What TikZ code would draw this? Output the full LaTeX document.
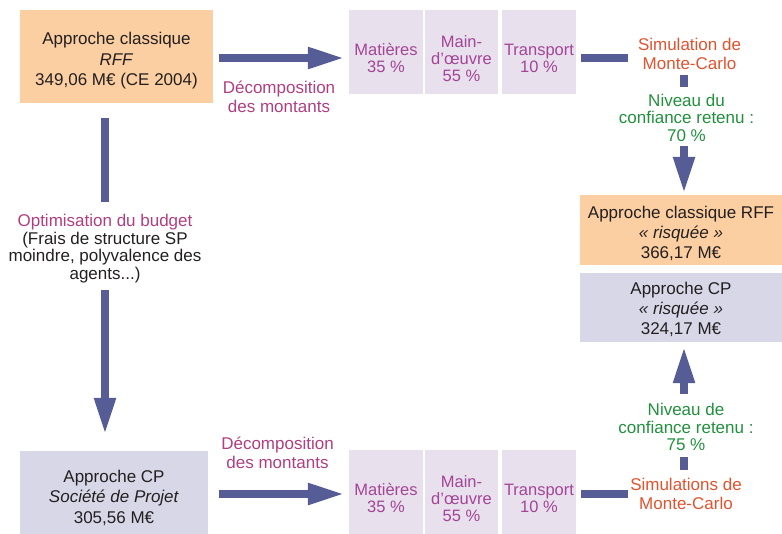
\documentclass[tikz,border=0pt]{standalone}
\usepackage{fontspec}
\setmainfont{Liberation Sans}
\usetikzlibrary{arrows.meta}
\definecolor{boxorange}{HTML}{FBCFA1}
\definecolor{boxlav}{HTML}{E8E0ED}
\definecolor{boxgrey}{HTML}{D8D7E7}
\definecolor{arrowblue}{HTML}{565C96}
\definecolor{txtpurple}{HTML}{A24596}
\definecolor{txtrose}{HTML}{B03E80}
\definecolor{txtred}{HTML}{E2522E}
\definecolor{txtgreen}{HTML}{21903C}
\definecolor{txtblack}{HTML}{231F20}
\begin{document}
\begin{tikzpicture}[x=1pt,y=-1pt,
  bigbox/.style={inner sep=0pt},
  bigtxt/.style={inner sep=0pt, align=center, text=txtblack, font=\fontsize{17}{20.5}\selectfont},
  smallbox/.style={fill=boxlav, inner sep=0pt, minimum height=84pt},
  boxtxt/.style={inner sep=0pt, align=center, text=txtpurple, font=\fontsize{16.5}{17}\selectfont},
  lbl/.style={inner sep=0pt, align=center, font=\fontsize{17}{19}\selectfont},
  bar/.style={draw=arrowblue, line width=8pt},
  arr/.style={bar, -{Triangle[width=20pt,length=37pt]}}
]
\useasboundingbox (0,0) rectangle (782,533);
\clip (0,0) rectangle (782,533);
\coordinate (ytop) at (0,58);
\coordinate (ybot) at (0,494);
\coordinate (colL) at (105,0);
\coordinate (colR) at (684,0);

% big boxes
\node[bigbox, fill=boxorange, minimum width=193pt, minimum height=93pt] (tl) at (116.5,56.5) {};
\node[bigtxt] (tlt) at (116.5,61) {Approche classique\\\textit{RFF}\\349,06 M€ (CE 2004)};
\node[bigbox, fill=boxgrey, minimum width=188pt, minimum height=93pt] (cp) at (114,497.5) {};
\node[bigtxt] (cpt) at (114,497.5) {Approche CP\\\textit{Société de Projet}\\305,56 M€};
\node[bigbox, fill=boxorange, minimum width=202pt, minimum height=70pt] (rff2) at (681,230) {};
\node[bigtxt, font=\fontsize{17}{20}\selectfont] (rff2t) at (681,233) {Approche classique RFF\\\textit{« risquée »}\\366,17 M€};
\node[bigbox, fill=boxgrey, minimum width=202pt, minimum height=69pt] (cpr) at (681,307.5) {};
\node[bigtxt, font=\fontsize{17}{20}\selectfont] (cprt) at (681,309) {Approche CP\\\textit{« risquée »}\\324,17 M€};

% small boxes top
\node[smallbox, minimum width=74pt] (m1) at (386,52) {};
\node[smallbox, minimum width=73pt] (m2) at (461.5,52) {};
\node[smallbox, minimum width=74pt] (m3) at (539,52) {};
\node[boxtxt] (m1t) at (386,58) {Matières\\35~\%};
\node[boxtxt] (m2t) at (461.5,58.5) {Main-\\d’œuvre\\55~\%};
\node[boxtxt] (m3t) at (539,58) {Transport\\10~\%};

% small boxes bottom
\node[smallbox, minimum width=74pt] (n1) at (386,492) {};
\node[smallbox, minimum width=73pt] (n2) at (461.5,492) {};
\node[smallbox, minimum width=74pt] (n3) at (539,492) {};
\node[boxtxt] (n1t) at (386,498) {Matières\\35~\%};
\node[boxtxt] (n2t) at (461.5,498.5) {Main-\\d’œuvre\\55~\%};
\node[boxtxt] (n3t) at (539,498) {Transport\\10~\%};

% labels
\node[lbl, text=txtrose] (dec1) at (279,96.5) {Décomposition\\des montants};
\node[lbl, text=txtrose] (dec2) at (277.5,453) {Décomposition\\des montants};
\node[lbl, text=txtred] (sim1) at (689.5,53.5) {Simulation de\\Monte-Carlo};
\node[lbl, text=txtgreen, font=\fontsize{17}{17.5}\selectfont] (niv1) at (686.5,117.5)
  {Niveau du\\confiance retenu :\\70~\%};
\node[lbl, text=txtgreen, font=\fontsize{17}{17.5}\selectfont] (niv2) at (686,427)
  {Niveau de\\confiance retenu :\\75~\%};
\node[lbl, text=txtred] (sim2) at (686,493.5) {Simulations de\\Monte-Carlo};
\node[lbl, text=txtblack, font=\fontsize{17}{17.7}\selectfont] (opt) at (105,248.5)
  {\textcolor{txtrose}{Optimisation du budget}\\(Frais de structure SP\\moindre, polyvalence des\\agents...)};

% connectors
\draw[arr, shorten <=6pt, shorten >=4pt] (tl.east |- ytop) -- (m1.west |- ytop);
\draw[bar, shorten <=5pt, shorten >=10pt] (m3.east |- ytop) -- (sim1.west |- ytop);
\draw[bar, shorten <=6pt, shorten >=7pt] (sim1.south -| colR) -- (niv1.north -| colR);
\draw[arr, shorten <=5pt, shorten >=1pt] (niv1.south -| colR) -- (rff2.north -| colR);
\draw[bar, shorten <=15pt, shorten >=12pt] (tl.south -| colL) -- (opt.north -| colL);
\draw[arr, shorten <=7pt, shorten >=16pt] (opt.south -| colL) -- (cp.north -| colL);
\draw[arr, shorten <=11pt, shorten >=4pt] (cp.east |- ybot) -- (n1.west |- ybot);
\draw[bar, shorten <=5pt, shorten >=2pt] (n3.east |- ybot) -- (sim2.west |- ybot);
\draw[bar, shorten <=8pt, shorten >=6pt] (sim2.north -| colR) -- (niv2.south -| colR);
\draw[arr, shorten <=9pt, shorten >=4pt] (niv2.north -| colR) -- (cpr.south -| colR);
\end{tikzpicture}
\end{document}
